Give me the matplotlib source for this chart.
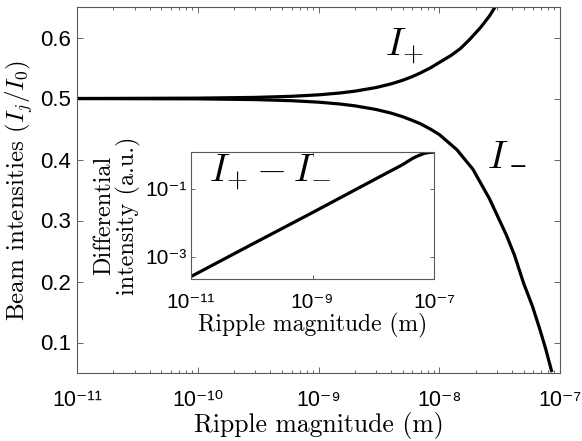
import numpy as np
import matplotlib
matplotlib.use("Agg")
import matplotlib.pyplot as plt
from matplotlib.ticker import LogLocator, FixedLocator, FuncFormatter, NullLocator

plt.rcParams["mathtext.fontset"] = "cm"
plt.rcParams["font.family"] = ["Liberation Sans", "DejaVu Sans"]
plt.rcParams["axes.unicode_minus"] = False

# main plot: beam intensities vs ripple magnitude
x_plus = [1e-11, 1e-10, 3e-10, 6e-10, 1e-9, 1.5e-9, 2e-9, 3e-9, 4e-9, 5e-9, 6e-9,
          7e-9, 8.5e-9, 1e-8, 1.25e-8, 1.5e-8, 1.8e-8, 2.2e-8, 2.6e-8, 2.9e-8]
i_plus = [0.5000, 0.5006, 0.5018, 0.5036, 0.5060, 0.5090, 0.5120, 0.5180, 0.5240,
          0.5300, 0.5360, 0.5420, 0.5505, 0.5590, 0.5705, 0.5820, 0.5975, 0.6165,
          0.6350, 0.6500]

x_minus = [1e-11, 1e-10, 3e-10, 6e-10, 1e-9, 1.5e-9, 2e-9, 3e-9, 4e-9, 5e-9, 6e-9,
           7e-9, 8.5e-9, 1e-8, 1.4e-8, 1.9e-8, 2.6e-8, 3.6e-8, 4.2e-8, 5e-8, 5.9e-8,
           6.8e-8, 7.6e-8, 8.5e-8]
i_minus = [0.4999, 0.4994, 0.4982, 0.4964, 0.4940, 0.4910, 0.4880, 0.4820, 0.4760,
           0.4700, 0.4640, 0.4585, 0.4495, 0.4410, 0.4160, 0.3840, 0.3360, 0.2760,
           0.2430, 0.1970, 0.1600, 0.1220, 0.0900, 0.0540]

# inset: differential intensity (log-log)
x_diff = [1e-11, 1e-10, 1e-9, 1e-8, 3e-8, 4.5e-8, 5.6e-8, 7e-8, 8.5e-8, 1e-7]
d_diff = [2.6e-4, 2.3e-3, 2.0e-2, 1.8e-1, 5.1e-1, 8.0e-1, 9.6e-1, 1.12, 1.19, 1.21]

y_ticks = [0.1, 0.2, 0.3, 0.4, 0.5, 0.6]

SUP = str.maketrans("-0123456789", "⁻⁰¹²³⁴⁵⁶⁷⁸⁹")


def pow_label(v, pos):
    e = int(round(np.log10(v)))
    return "10" + str(e).translate(SUP)


serif = "cmr10"

fig = plt.figure(figsize=(5.82, 4.41), dpi=100)
ax = fig.add_axes([77 / 582, 1 - 373 / 441, (560 - 77) / 582, (373 - 7) / 441])

ax.plot(x_plus, i_plus, color="black", lw=2.3)
ax.plot(x_minus, i_minus, color="black", lw=2.3)
ax.set_xscale("log")
ax.set_xlim(1e-11, 1e-7)
ax.set_ylim(0.05, 0.65)
ax.xaxis.set_major_locator(LogLocator(base=10, numticks=10))
ax.xaxis.set_minor_locator(LogLocator(base=10, subs=np.arange(2, 10), numticks=20))
ax.xaxis.set_major_formatter(FuncFormatter(pow_label))
ax.set_yticks(y_ticks)
ax.set_yticklabels([f"{t:.1f}" for t in y_ticks])
ax.tick_params(which="both", direction="in", top=True, right=True, color="0.3")
ax.tick_params(which="major", length=4, width=0.6, labelsize=16, pad=4)
ax.tick_params(which="minor", length=2, width=0.6)
ax.tick_params(axis="x", labelsize=15.5, pad=12)
for s in ax.spines.values():
    s.set_color("0.35")
    s.set_linewidth(0.8)

ax.set_xlabel("Ripple magnitude (m)", fontsize=18.5, family=serif, labelpad=1)
ax.set_ylabel(r"Beam intensities $(I_j/I_0)$", fontsize=18, family=serif,
              labelpad=4)

ax.text(0.677, 0.891, r"$I_{+}$", transform=ax.transAxes, fontsize=28,
        ha="center", va="center")
# I_- label: the lone subscript minus is lost by mathtext here, so it is set apart
ax.text(0.849, 0.560, r"$I$", transform=ax.transAxes, fontsize=28,
        ha="left", va="baseline")
ax.text(0.893, 0.546, "\u2212", transform=ax.transAxes, fontsize=16,
        family="DejaVu Sans", ha="left", va="baseline")

# inset
ins = fig.add_axes([191 / 582, 1 - 279 / 441, (434 - 191) / 582, (279 - 152) / 441])
ins.plot(x_diff, d_diff, color="black", lw=2.3)
ins.set_xscale("log")
ins.set_yscale("log")
ins.set_xlim(1e-11, 1e-7)
ins.set_ylim(2.2e-4, 1.22)
ins.xaxis.set_major_locator(FixedLocator([1e-11, 1e-9, 1e-7]))
ins.yaxis.set_major_locator(FixedLocator([1e-3, 1e-1]))
ins.xaxis.set_minor_locator(NullLocator())
ins.yaxis.set_minor_locator(NullLocator())
ins.xaxis.set_major_formatter(FuncFormatter(pow_label))
ins.yaxis.set_major_formatter(FuncFormatter(pow_label))
ins.tick_params(which="both", direction="in", top=True, right=True, color="0.3",
                length=3, width=0.6, labelsize=15)
ins.tick_params(axis="x", pad=10)
ins.tick_params(axis="y", pad=3)
for s in ins.spines.values():
    s.set_color("0.35")
    s.set_linewidth(0.8)
ins.set_xlabel("Ripple magnitude (m)", fontsize=17, family=serif, labelpad=1)
ins.set_ylabel("Differential\nintensity (a.u.)", fontsize=17.5, family=serif,
               labelpad=3, linespacing=1.05)
ins.text(0.325, 0.835, r"$I_{+} - I_{-}$", transform=ins.transAxes, fontsize=28,
         ha="center", va="center")

fig.souvenir = None
fig.savefig("out.png", dpi=100)
